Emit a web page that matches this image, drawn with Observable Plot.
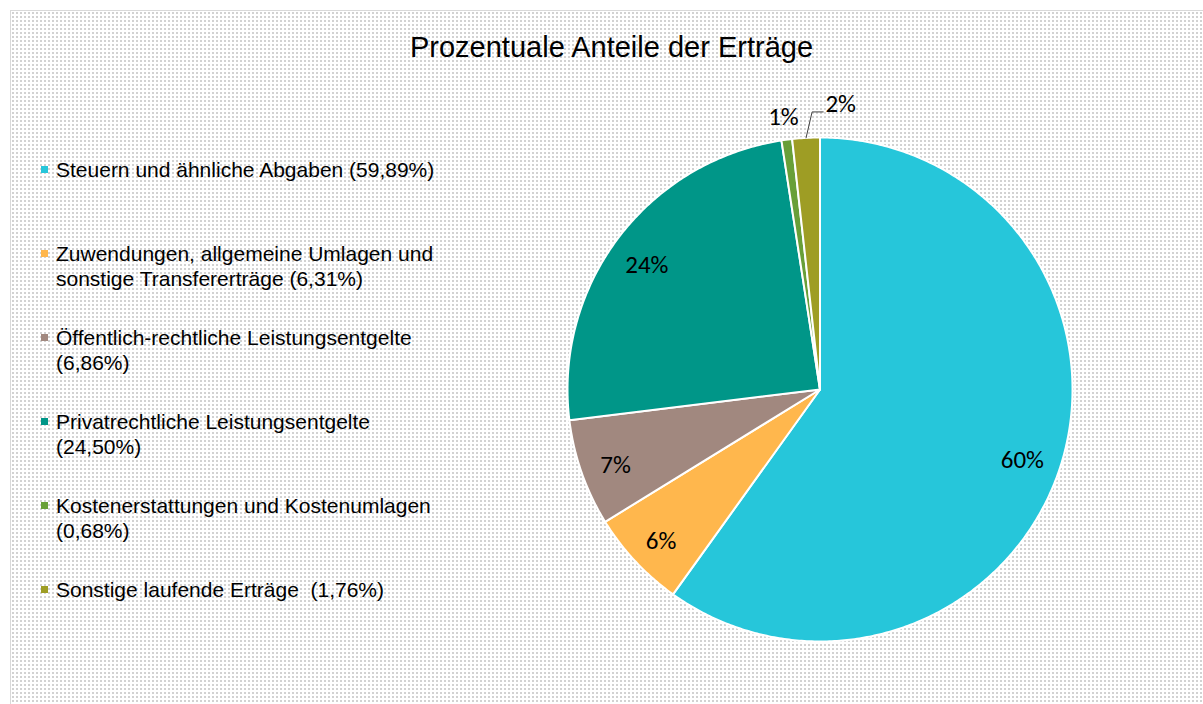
<!DOCTYPE html>
<html>
<head>
<meta charset="utf-8">
<script src="https://cdn.jsdelivr.net/npm/d3@7"></script>
<script src="https://cdn.jsdelivr.net/npm/@observablehq/plot@0.6"></script>
<style>
  html, body { margin: 0; padding: 0; background: #ffffff; overflow: hidden; }
  #page { position: relative; width: 1203px; height: 704px; }
  #frame {
    position: absolute; left: 10px; top: 10px; width: 1203px; height: 700px;
    border: 1.5px solid #d9d9d9; box-sizing: border-box;
    background-color: #ffffff;
    background-image: radial-gradient(#d2d2d2 0.9px, transparent 1.1px);
    background-size: 4px 4px;
  }
  #title {
    position: absolute; left: 10px; top: 31px; width: 1203px; text-align: center;
    font-family: "Liberation Sans", Arial, sans-serif; font-size: 29px; color: #000;
    line-height: 32px;
  }
  .item {
    position: absolute; left: 56px; width: 392px;
    font-family: "Liberation Sans", Arial, sans-serif; font-size: 21px; line-height: 25px;
    color: #000; white-space: pre-wrap;
  }
  .sw { position: absolute; left: -15px; top: 9px; width: 7px; height: 7px; }
  #chart { position: absolute; left: 0; top: 0; }
</style>
</head>
<body>
<div id="page">
  <div id="frame"></div>
  <div id="title"></div>
  <div id="legend"></div>
  <div id="chart"></div>
</div>
<script>
const title = "Prozentuale Anteile der Erträge";
const categories = [
  "Steuern und ähnliche Abgaben",
  "Zuwendungen, allgemeine Umlagen und sonstige Transfererträge",
  "Öffentlich-rechtliche Leistungsentgelte",
  "Privatrechtliche Leistungsentgelte",
  "Kostenerstattungen und Kostenumlagen",
  "Sonstige laufende Erträge "
];
const values = [59.89, 6.31, 6.86, 24.50, 0.68, 1.76];
const valueTexts = ["59,89%", "6,31%", "6,86%", "24,50%", "0,68%", "1,76%"];
const sliceLabels = ["60%", "6%", "7%", "24%", "1%", "2%"];
const colors = ["#26C6DA", "#FFB74D", "#A1887F", "#009688", "#689F38", "#9E9D24"];

document.getElementById("title").textContent = title;

// Legend (HTML)
const legend = document.getElementById("legend");
categories.forEach((c, i) => {
  const d = document.createElement("div");
  d.className = "item";
  d.style.top = (157 + i * 84) + "px";
  d.textContent = c + " (" + valueTexts[i] + ")";
  const s = document.createElement("span");
  s.className = "sw";
  s.style.background = colors[i];
  d.appendChild(s);
  legend.appendChild(d);
});

// Pie geometry from values
const total = d3.sum(values);
let cum = 0;
const slices = values.map((v, i) => {
  const a0 = cum / total * 2 * Math.PI;
  cum += v;
  const a1 = cum / total * 2 * Math.PI;
  return {cat: categories[i], label: sliceLabels[i], a0, a1, mid: (a0 + a1) / 2, i};
});
const pts = [];
for (const s of slices) {
  pts.push({cat: s.cat, x: 0, y: 0});
  const n = Math.max(4, Math.ceil((s.a1 - s.a0) / 0.01));
  for (let k = 0; k <= n; k++) {
    const a = s.a0 + (s.a1 - s.a0) * k / n;
    pts.push({cat: s.cat, x: Math.sin(a), y: Math.cos(a)});
  }
  pts.push({cat: s.cat, x: 0, y: 0});
}
const inside = slices.filter(s => values[s.i] >= 5).map(s => ({
  label: s.label, x: 0.85 * Math.sin(s.mid), y: 0.85 * Math.cos(s.mid)
}));
const outside = slices.filter(s => values[s.i] < 5).map(s => ({
  label: s.label, x: 1.1 * Math.sin(s.mid), y: 1.1 * Math.cos(s.mid), last: s.i === values.length - 1
}));
// leader line for the last small slice
const lastS = slices[slices.length - 1];
const lx = Math.sin(lastS.mid), ly = Math.cos(lastS.mid);
const leader = [
  {x: lx, y: ly},
  {x: lx + 0.024, y: ly + 0.103},
  {x: lx + 0.068, y: ly + 0.103}
];

const labelFont = "Carlito, Calibri, Lato, sans-serif";
const plot = Plot.plot({
  width: 1203,
  height: 704,
  margin: 0,
  x: {domain: [-1, 1], range: [567, 1072], axis: null},
  y: {domain: [-1, 1], range: [641, 137], axis: null},
  color: {domain: categories, range: colors},
  style: {background: "transparent", overflow: "visible"},
  marks: [
    Plot.line(pts, {x: "x", y: "y", z: "cat", fill: "cat", stroke: "white", strokeWidth: 2, strokeLinejoin: "round", curve: "linear-closed"}),
    Plot.text(inside, {x: "x", y: "y", text: "label", fontSize: 25, fontFamily: labelFont, fill: "#000", dx: -2, dy: 5}),
    Plot.text(outside.filter(d => !d.last), {x: "x", y: "y", text: "label", fontSize: 25, fontFamily: labelFont, fill: "#000", dy: 2}),
    Plot.text(outside.filter(d => d.last), {x: "x", y: "y", text: "label", fontSize: 25, fontFamily: labelFont, fill: "#000", dx: 36, dy: -9}),
    Plot.line(leader, {x: "x", y: "y", stroke: "#404040", strokeWidth: 1})
  ]
});
document.getElementById("chart").appendChild(plot);
</script>
</body>
</html>
